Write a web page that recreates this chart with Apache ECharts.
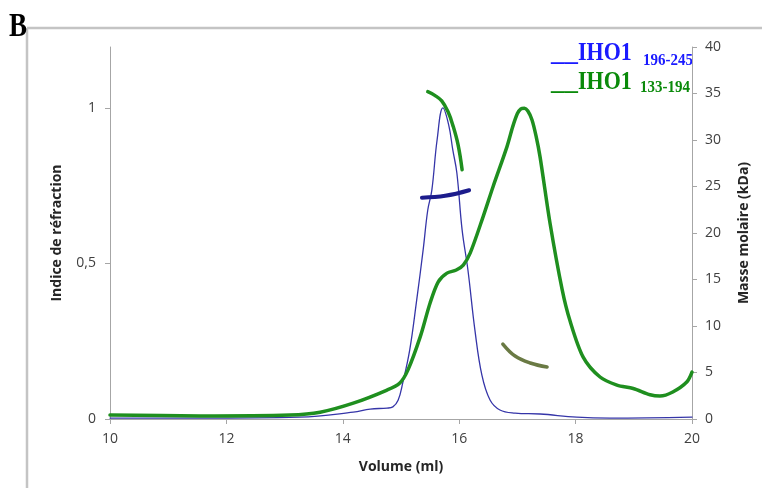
<!DOCTYPE html>
<html>
<head>
<meta charset="utf-8">
<script src="https://cdn.jsdelivr.net/npm/echarts@6/dist/echarts.min.js"></script>
<style>html,body{margin:0;padding:0;background:#fff}#c{width:762px;height:488px}</style>
</head>
<body>
<div id="c"></div>
<script>
// Refractive index traces (left axis)
const blueRI = [
  [10.0,0.003],[11.55,0.003],[13.26,0.006],[14.18,0.022],[14.47,0.032],[14.76,0.035],[14.86,0.039],
  [14.95,0.06],[15.03,0.116],[15.15,0.222],[15.27,0.383],[15.38,0.543],[15.46,0.672],[15.53,0.736],
  [15.62,0.897],[15.72,1.0],[15.82,0.945],[15.89,0.865],[15.96,0.791],[16.05,0.608],[16.15,0.479],
  [16.27,0.286],[16.39,0.141],[16.53,0.061],[16.70,0.029],[16.96,0.019],[17.39,0.016],[18.02,0.006],
  [18.59,0.003],[20.0,0.006]
];
const greenRI = [
  [10.0,0.013],[11.55,0.010],[13.09,0.013],[13.61,0.022],[14.18,0.051],[14.76,0.093],[14.98,0.116],
  [15.12,0.158],[15.33,0.264],[15.50,0.373],[15.64,0.441],[15.79,0.469],[15.95,0.479],[16.07,0.495],
  [16.19,0.534],[16.41,0.650],[16.58,0.746],[16.82,0.875],[16.92,0.94],[17.00,0.982],[17.06,0.997],
  [17.12,0.999],[17.18,0.99],[17.25,0.962],[17.32,0.91],[17.39,0.842],[17.56,0.630],[17.77,0.415],
  [17.90,0.318],[18.13,0.199],[18.42,0.135],[18.71,0.109],[18.99,0.098],[19.28,0.078],[19.45,0.074],
  [19.67,0.087],[19.91,0.119],[20.0,0.151]
];
// Molar mass segments (right axis, kDa)
const greenMass = [[15.46,35.2],[15.58,34.8],[15.70,34.2],[15.81,33.0],[15.89,31.6],[15.98,29.5],[16.05,26.8]];
const blueMass = [[15.36,23.8],[15.76,24.0],[16.17,24.6]];
const oliveMass = [[16.75,8.06],[16.96,6.77],[17.22,6.02],[17.51,5.59]];
const leftTicks = [0,0.5,1];

const chart = echarts.init(document.getElementById('c'), null, {renderer:'canvas'});
const axisGray = '#a6a6a6';
const labelStyle = {color:'#404040', fontSize:14, fontFamily:'Open Sans'};
const nameStyle = {color:'#262626', fontSize:14, fontWeight:'bold', fontFamily:'Open Sans'};
const lineSeries = (data, y, color, width, z, sm) => ({
  type:'line', data, yAxisIndex:y, showSymbol:false, smooth:sm, z,
  lineStyle:{color, width, cap:'round', join:'round'}, emphasis:{disabled:true}
});
const serifTxt = (x, y, text, size, fill, sy, sx) => ({
  type:'text', x, y, scaleY:sy, scaleX:sx || 1, silent:true,
  style:{text, font:'bold ' + size + 'px "Liberation Serif"', fill, verticalAlign:'top'}
});
chart.setOption({
  animation:false,
  backgroundColor:'#fff',
  grid:{left:110, right:70, top:47, bottom:69},
  xAxis:{
    type:'value', min:10, max:20, interval:2,
    name:'Volume (ml)', nameLocation:'middle', nameGap:41, nameTextStyle:nameStyle,
    axisLine:{lineStyle:{color:axisGray}}, axisTick:{length:5, lineStyle:{color:axisGray}},
    axisLabel:Object.assign({margin:13}, labelStyle), splitLine:{show:false}
  },
  yAxis:[{
    type:'value', min:0, max:1.196, interval:0.5, position:'left',
    name:'Indice de réfraction', nameLocation:'middle', nameGap:46, nameTextStyle:nameStyle,
    axisLine:{show:true, lineStyle:{color:axisGray}},
    axisTick:{show:true, length:5, customValues:leftTicks, lineStyle:{color:axisGray}},
    axisLabel:Object.assign({margin:14, customValues:leftTicks, formatter:v=>String(v).replace('.',',')}, labelStyle),
    splitLine:{show:false}
  },{
    type:'value', min:0, max:40, interval:5, position:'right',
    name:'Masse molaire (kDa)', nameLocation:'middle', nameGap:45, nameTextStyle:nameStyle,
    axisLine:{show:true, lineStyle:{color:axisGray}},
    axisTick:{show:true, length:5, lineStyle:{color:axisGray}},
    axisLabel:Object.assign({margin:13}, labelStyle), splitLine:{show:false}
  }],
  series:[
    lineSeries(blueRI, 0, '#3535a8', 1.3, 2, 0.4),
    lineSeries(greenRI, 0, '#1f8f1f', 3.5, 3, 0.3),
    lineSeries(greenMass, 1, '#1f8f1f', 3.5, 4, 0.4),
    lineSeries(blueMass, 1, '#1c1c8c', 4, 4, 0.4),
    lineSeries(oliveMass, 1, '#6a7a44', 3.5, 4, 0.4)
  ],
  graphic:[
    {type:'line', silent:true, shape:{x1:27, y1:28, x2:762, y2:28}, style:{stroke:'#c4c4c4', lineWidth:2.5}},
    {type:'line', silent:true, shape:{x1:27, y1:28, x2:27, y2:488}, style:{stroke:'#c4c4c4', lineWidth:2.5}},
    serifTxt(9, 10, 'B', 27, '#000', 1.25),
    serifTxt(551, 41, '__', 22, '#1a1aff', 1.15, 1.22),
    serifTxt(578, 41, 'IHO1', 22, '#1a1aff', 1.15),
    serifTxt(643, 51.5, '196-245', 15, '#1a1aff', 1.15),
    serifTxt(551, 70, '__', 22, '#0a8a0a', 1.15, 1.22),
    serifTxt(578, 70, 'IHO1', 22, '#0a8a0a', 1.15),
    serifTxt(640, 78.5, '133-194', 15, '#0a8a0a', 1.15)
  ]
});
</script>
</body>
</html>
